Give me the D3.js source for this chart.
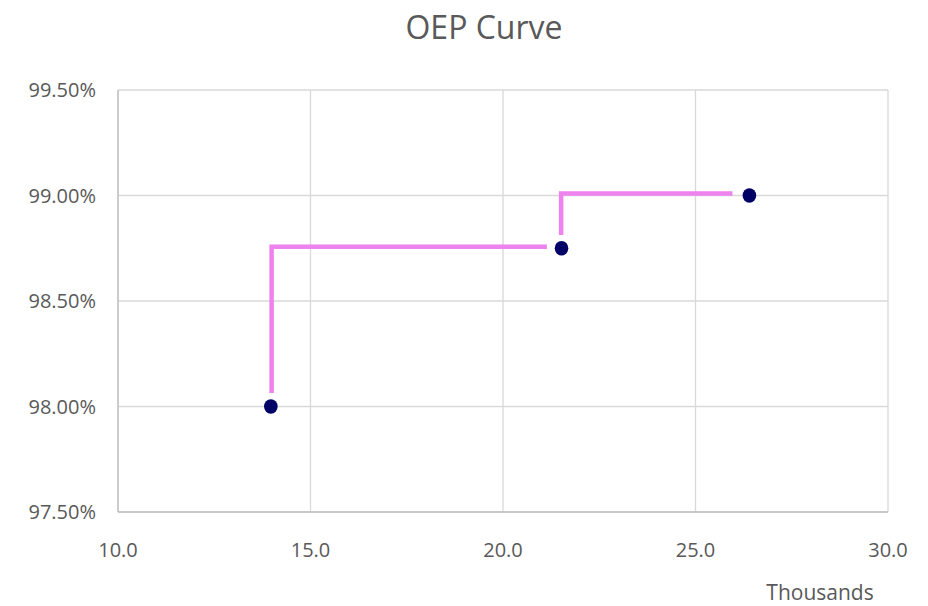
<!DOCTYPE html>
<html>
<head>
<meta charset="utf-8">
<script src="https://cdn.jsdelivr.net/npm/d3@7"></script>
<style>
  body { margin: 0; background: #fff; }
  svg { display: block; }
  text { font-family: "Open Sans", sans-serif; fill: #595959; }
</style>
</head>
<body>
<svg id="chart" width="928" height="606"></svg>
<script>
// ---- data ----
const lossThousands = [13.97, 21.52, 26.40];
const probability = [98.00, 98.75, 99.00];
// step connector segments
const stepX = [13.99, 21.51];
const stepYBottom = [98.064, 98.813];
const stepYTop = [98.757, 99.010];
const stepXEnd = [21.14, 25.96];
const xTicks = [10, 15, 20, 25, 30];
const yTicks = [97.5, 98.0, 98.5, 99.0, 99.5];
const title = "OEP Curve";
const xUnitLabel = "Thousands";

// ---- layout ----
const svg = d3.select("#chart");
const pL = 118, pR = 888, pT = 90, pB = 512;
const x = d3.scaleLinear().domain([10, 30]).range([pL, pR]);
const y = d3.scaleLinear().domain([97.5, 99.5]).range([pB, pT]);

// grid
svg.append("g").selectAll("line").data(xTicks).join("line")
  .attr("x1", d => x(d)).attr("x2", d => x(d))
  .attr("y1", pT).attr("y2", pB)
  .attr("stroke", "#d9d9d9").attr("stroke-width", 1.3);
svg.append("g").selectAll("line").data(yTicks).join("line")
  .attr("x1", pL).attr("x2", pR)
  .attr("y1", d => y(d)).attr("y2", d => y(d))
  .attr("stroke", "#d9d9d9").attr("stroke-width", 1.3);
// axis lines
svg.append("line").attr("x1", pL).attr("x2", pL).attr("y1", pT).attr("y2", pB)
  .attr("stroke", "#bfbfbf").attr("stroke-width", 1.3);
svg.append("line").attr("x1", pL).attr("x2", pR).attr("y1", pB).attr("y2", pB)
  .attr("stroke", "#bfbfbf").attr("stroke-width", 1.3);

// y tick labels
svg.append("g").selectAll("text").data(yTicks).join("text")
  .attr("x", 96).attr("y", d => y(d)).attr("dy", "0.36em")
  .attr("text-anchor", "end").attr("font-size", 20)
  .text(d => d3.format(".2f")(d) + "%");
// x tick labels
svg.append("g").selectAll("text").data(xTicks).join("text")
  .attr("x", d => x(d)).attr("y", 550).attr("dy", "0.36em")
  .attr("text-anchor", "middle").attr("font-size", 20)
  .text(d => d3.format(".1f")(d));

// title
svg.append("text").attr("x", 484).attr("y", 39).attr("text-anchor", "middle")
  .attr("font-size", 32).text(title);
// unit label
svg.append("text").attr("x", 820).attr("y", 600).attr("text-anchor", "middle")
  .attr("font-size", 21).text(xUnitLabel);

// step connectors
const steps = stepX.map((sx, i) => ({sx, yb: stepYBottom[i], yt: stepYTop[i], xe: stepXEnd[i]}));
svg.append("g").selectAll("path").data(steps).join("path")
  .attr("d", d => {
    const p = d3.path();
    p.moveTo(x(d.sx), y(d.yb));
    p.lineTo(x(d.sx), y(d.yt));
    p.lineTo(x(d.xe), y(d.yt));
    return p.toString();
  })
  .attr("fill", "none").attr("stroke", "#ee82ee").attr("stroke-width", 4.5);

// points
svg.append("g").selectAll("ellipse").data(lossThousands).join("ellipse")
  .attr("cx", d => x(d)).attr("cy", (d, i) => y(probability[i]))
  .attr("rx", 6.8).attr("ry", 7.3)
  .attr("fill", "#000066");
</script>
</body>
</html>
